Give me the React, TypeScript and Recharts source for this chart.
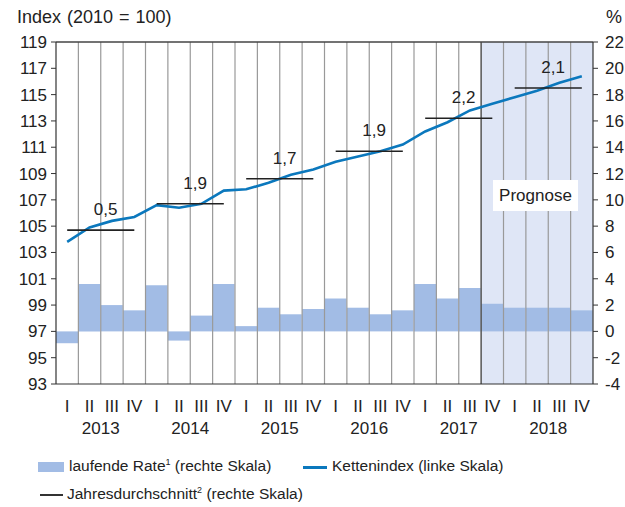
import React from "react";
import {
  ComposedChart,
  Bar,
  Line,
  XAxis,
  YAxis,
  ReferenceArea,
  ReferenceLine,
  LabelList,
} from "recharts";

const years = [2013, 2014, 2015, 2016, 2017, 2018];
const quarters = ["I", "II", "III", "IV"];

// Kettenindex (linke Skala), quarterly
const kettenindex = [
  103.8, 104.9, 105.4, 105.7,
  106.6, 106.4, 106.7, 107.7,
  107.8, 108.3, 108.9, 109.3,
  109.9, 110.3, 110.7, 111.2,
  112.2, 112.9, 113.8, 114.3,
  114.8, 115.3, 115.9, 116.4,
];

// laufende Rate in % (rechte Skala)
const laufendeRate = [
  -0.9, 3.6, 2.0, 1.6,
  3.5, -0.7, 1.2, 3.6,
  0.4, 1.8, 1.3, 1.7,
  2.5, 1.8, 1.3, 1.6,
  3.6, 2.5, 3.3, 2.1,
  1.8, 1.8, 1.8, 1.6,
];

// Jahresdurchschnitt: level of the bar and its label
const jahresNiveau = [104.7, 106.7, 108.6, 110.7, 113.2, 115.5];
const jahresRate = ["0,5", "1,9", "1,7", "1,9", "2,2", "2,1"];

const leftTicks = [93, 95, 97, 99, 101, 103, 105, 107, 109, 111, 113, 115, 117, 119];
const rightTicks = [-4, -2, 0, 2, 4, 6, 8, 10, 12, 14, 16, 18, 20, 22];

const prognoseStart = "2017-IV";
const prognoseEnd = "2018-IV";

const keys = years.flatMap((y) => quarters.map((q) => `${y}-${q}`));

const data = keys.map((key, i) => {
  const yi = Math.floor(i / 4);
  const row: Record<string, any> = {
    key,
    quarter: quarters[i % 4],
    year: years[yi],
    rate: laufendeRate[i],
    index: kettenindex[i],
  };
  years.forEach((y, j) => {
    row[`avg${y}`] = j === yi ? jahresNiveau[j] : null;
  });
  return row;
});

const FONT = "'Liberation Sans', Arial, Helvetica, sans-serif";
const HALF_BAND = 11.2;

const QuarterTick = (props: any) => {
  const { x, y, payload } = props;
  const [yr, q] = String(payload.value).split("-");
  return (
    <g>
      <text x={x} y={y + 20} textAnchor="middle" fontSize={17} fill="#222">
        {q}
      </text>
      {q === "II" && (
        <text x={x + HALF_BAND} y={y + 42} textAnchor="middle" fontSize={17} fill="#222">
          {yr}
        </text>
      )}
    </g>
  );
};

export default function App() {
  return (
    <div
      style={{
        position: "absolute",
        left: 0,
        top: 0,
        width: 625,
        height: 507,
        background: "#fff",
        fontFamily: FONT,
      }}
    >
      <div
        style={{
          position: "absolute",
          left: 17,
          top: 7,
          fontSize: 18,
          wordSpacing: 1,
          color: "#222",
          whiteSpace: "nowrap",
        }}
      >
        Index (2010 = 100)
      </div>
      <div style={{ position: "absolute", left: 606, top: 7, fontSize: 18, color: "#222" }}>%</div>

      <ComposedChart
        width={625}
        height={507}
        data={data}
        margin={{ top: 42, right: 0, left: 0, bottom: 0 }}
        barCategoryGap={0}
        barGap={0}
        style={{ fontFamily: FONT }}
      >
        <XAxis
          dataKey="key"
          interval={0}
          tickLine={false}
          axisLine={{ stroke: "#333", strokeWidth: 1.2 }}
          height={123}
          tick={<QuarterTick />}
        />
        <YAxis
          yAxisId="left"
          domain={[93, 119]}
          ticks={leftTicks}
          width={56}
          tickSize={5}
          tickMargin={4}
          axisLine={{ stroke: "#333", strokeWidth: 1.2 }}
          tickLine={{ stroke: "#333" }}
          tick={{ fontSize: 17, fill: "#222" }}
          allowDataOverflow
        />
        <YAxis
          yAxisId="right"
          orientation="right"
          domain={[-4, 22]}
          ticks={rightTicks}
          width={32}
          tickSize={5}
          tickMargin={7}
          axisLine={{ stroke: "#333", strokeWidth: 1.2 }}
          tickLine={{ stroke: "#333" }}
          tick={{ fontSize: 17, fill: "#222", textAnchor: "start" }}
          allowDataOverflow
        />
        <ReferenceArea
          yAxisId="left"
          x1={prognoseStart}
          x2={prognoseEnd}
          y1={93}
          y2={119}
          fill="#dfe6f6"
          fillOpacity={1}
          stroke="none"
        />
        <Bar yAxisId="right" dataKey="rate" fill="#a2bce5" isAnimationActive={false} />
        {keys.slice(1).map((k) => (
          <ReferenceLine
            key={k}
            yAxisId="left"
            x={k}
            position="start"
            stroke={k === prognoseStart ? "#555" : "#999"}
            strokeWidth={k === prognoseStart ? 1.5 : 1.2}
          />
        ))}
        <ReferenceLine yAxisId="left" y={119} stroke="#444" strokeWidth={1.5} />
        <Line
          yAxisId="left"
          dataKey="index"
          stroke="#0b78bd"
          strokeWidth={2.6}
          dot={false}
          isAnimationActive={false}
        />
        {years.map((y, j) => (
          <Line
            key={y}
            yAxisId="left"
            dataKey={`avg${y}`}
            stroke="#222"
            strokeWidth={1.6}
            dot={false}
            connectNulls={false}
            isAnimationActive={false}
          >
            <LabelList
              dataKey={`avg${y}`}
              content={(p: any) =>
                p.index === j * 4 + 1 ? (
                  <text
                    x={p.x + 16}
                    y={p.y - 15}
                    textAnchor="middle"
                    fontSize={17}
                    fill="#222"
                  >
                    {jahresRate[j]}
                  </text>
                ) : null
              }
            />
          </Line>
        ))}
      </ComposedChart>

      <div
        style={{
          position: "absolute",
          left: 493,
          top: 180,
          width: 85,
          height: 31,
          background: "#fff",
          fontSize: 17,
          color: "#222",
          display: "flex",
          alignItems: "center",
          justifyContent: "center",
        }}
      >
        Prognose
      </div>

      <div style={{ position: "absolute", left: 0, top: 455, fontSize: 15.5, color: "#222" }}>
        <div style={{ position: "absolute", left: 38, top: 7, width: 26, height: 10, background: "#a2bce5" }} />
        <div style={{ position: "absolute", left: 69, top: 2, whiteSpace: "nowrap" }}>
          laufende Rate<sup style={{ fontSize: 9 }}>1</sup> (rechte Skala)
        </div>
        <div style={{ position: "absolute", left: 303, top: 11, width: 24, height: 3, background: "#0b78bd" }} />
        <div style={{ position: "absolute", left: 332, top: 2, whiteSpace: "nowrap" }}>
          Kettenindex (linke Skala)
        </div>
        <div style={{ position: "absolute", left: 40, top: 39, width: 23, height: 1.5, background: "#333" }} />
        <div style={{ position: "absolute", left: 67, top: 30, whiteSpace: "nowrap" }}>
          Jahresdurchschnitt<sup style={{ fontSize: 9 }}>2</sup> (rechte Skala)
        </div>
      </div>
    </div>
  );
}
